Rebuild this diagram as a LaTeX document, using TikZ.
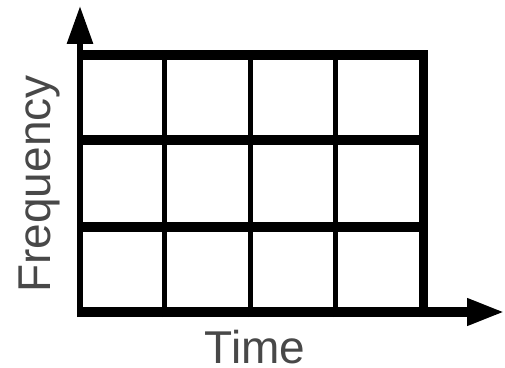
\documentclass[tikz,border=0pt]{standalone}
\usepackage{fontspec}
\setsansfont{Liberation Sans}
\usetikzlibrary{arrows.meta}
\definecolor{lbl}{HTML}{484848}
\begin{document}
\begin{tikzpicture}[x=1pt, y=1pt,
  axisline/.style={line width=#1, -{Triangle[length=38pt, width=25pt]}},
  hline/.style={line width=10pt},
  vline/.style={line width=5pt},
  lab/.style={font=\sffamily\fontsize{46}{50}\selectfont, text=lbl, inner sep=0pt}]
\useasboundingbox (0,0) rectangle (505,367);
% axes
\coordinate (o) at (77,55);
\coordinate (xend) at (505,55);
\coordinate (ybot) at (80,50);
\coordinate (yend) at (80,361);
\draw[axisline=10pt] (o) -- (xend);
\draw[axisline=6pt] (ybot) -- (yend);
% grid
\foreach \y in {140,227,312}
  \draw[hline] (77,\y) -- (428,\y);
\foreach \x in {164.5,250.5,335.5}
  \draw[vline] (\x,50) -- (\x,317);
\draw[line width=9pt] (423.5,50) -- (423.5,317);
% labels
\node[lab, anchor=base] (time) at (255,4) {Time};
\node[lab, rotate=90, anchor=base] (freq) at (50,183) {Frequency};
\end{tikzpicture}
\end{document}
